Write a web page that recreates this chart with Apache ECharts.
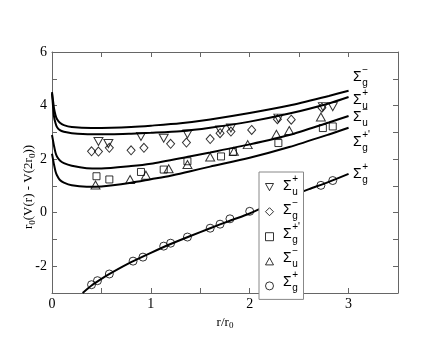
<!DOCTYPE html>
<html><head><meta charset="utf-8">
<script src="https://cdn.jsdelivr.net/npm/echarts@6/dist/echarts.min.js"></script>
<style>html,body{margin:0;padding:0;background:#fff}#c{width:448px;height:346px}</style>
</head><body><div id="c"></div>
<script>
// ---- data ----
// markers
const rSuPlus = [0.47, 0.57, 0.90, 1.13, 1.37, 1.70, 1.81, 2.29, 2.74, 2.84];
const vSuPlus = [2.66, 2.58, 2.85, 2.78, 2.94, 3.09, 3.16, 3.53, 3.96, 3.96];
const rSgMinus = [0.40, 0.47, 0.58, 0.80, 0.93, 1.20, 1.36, 1.60, 1.70, 1.81, 2.02, 2.28, 2.42, 2.73];
const vSgMinus = [2.29, 2.28, 2.42, 2.33, 2.42, 2.57, 2.62, 2.75, 2.97, 3.03, 3.09, 3.49, 3.47, 3.92];
const rSgPrime = [0.45, 0.58, 0.90, 1.13, 1.37, 1.71, 1.83, 2.29, 2.74, 2.84];
const vSgPrime = [1.36, 1.24, 1.52, 1.61, 1.92, 2.10, 2.27, 2.60, 3.16, 3.22];
const rSuMinus = [0.44, 0.79, 0.95, 1.18, 1.37, 1.60, 1.84, 1.98, 2.27, 2.40, 2.72];
const vSuMinus = [1.03, 1.24, 1.40, 1.64, 1.80, 2.08, 2.29, 2.54, 2.93, 3.07, 3.57];
const rSgPlus = [0.40, 0.46, 0.58, 0.82, 0.92, 1.13, 1.20, 1.37, 1.60, 1.70, 1.80, 2.00, 2.72, 2.84];
const vSgPlus = [-2.69, -2.54, -2.29, -1.81, -1.66, -1.25, -1.14, -0.91, -0.58, -0.43, -0.23, 0.05, 1.02, 1.20];
// curves
const rCurve1 = [0, 0.01, 0.02, 0.035, 0.05, 0.08, 0.12, 0.2, 0.4, 0.6, 0.8, 1.0, 1.3, 1.6, 2.0, 2.4, 2.8, 3.0];
const vCurve1 = [4.5, 4.2, 3.9, 3.65, 3.5, 3.36, 3.27, 3.2, 3.16, 3.17, 3.2, 3.25, 3.34, 3.48, 3.72, 4.0, 4.36, 4.55];
const rCurve2 = [0, 0.01, 0.02, 0.035, 0.05, 0.08, 0.12, 0.2, 0.4, 0.6, 0.8, 1.0, 1.3, 1.6, 2.0, 2.4, 2.8, 3.0];
const vCurve2 = [4.45, 4.0, 3.6, 3.35, 3.2, 3.08, 3.02, 2.97, 2.93, 2.93, 2.95, 2.98, 3.04, 3.17, 3.4, 3.7, 4.08, 4.32];
const rCurve3 = [0, 0.01, 0.02, 0.035, 0.05, 0.08, 0.12, 0.2, 0.35, 0.5, 0.8, 1.0, 1.39, 1.6, 2.0, 2.4, 2.8, 3.0];
const vCurve3 = [2.9, 2.7, 2.5, 2.25, 2.1, 1.95, 1.85, 1.75, 1.66, 1.65, 1.74, 1.83, 2.1, 2.25, 2.55, 2.9, 3.37, 3.61];
const rCurve4 = [0, 0.01, 0.02, 0.035, 0.05, 0.08, 0.12, 0.2, 0.35, 0.5, 0.8, 1.0, 1.2, 1.4, 1.6, 2.0, 2.4, 2.8, 3.0];
const vCurve4 = [2.2, 2.0, 1.8, 1.55, 1.4, 1.22, 1.12, 1.02, 0.97, 0.98, 1.12, 1.25, 1.38, 1.55, 1.72, 2.05, 2.45, 2.92, 3.17];
const rCurve5 = [0.31, 0.4, 0.5, 0.6, 0.8, 1.0, 1.2, 1.4, 1.6, 1.8, 2.0, 2.2, 2.4, 2.6, 2.8, 3.0];
const vCurve5 = [-3.0, -2.72, -2.47, -2.25, -1.85, -1.5, -1.17, -0.87, -0.58, -0.3, -0.03, 0.3, 0.6, 0.88, 1.15, 1.45];
// axis ticks
const xTickLabels = [0, 1, 2, 3];
const yTickLabels = [-2, 0, 2, 4, 6];

const zip = (a, b) => a.map((x, i) => [x, b[i]]);
const SERIF = '"Liberation Serif", "Times New Roman", serif';
const SANS = '"Liberation Sans", Arial, sans-serif';
const triDown = 'path://M0,0 L10,0 L5,9 Z';
const triUp = 'path://M5,0 L10,9 L0,9 Z';
const mk = {color: 'rgba(0,0,0,0)', borderColor: '#000', borderWidth: 1};

function lineSeries(r, v) {
  return {type: 'line', data: zip(r, v), showSymbol: false, smooth: 0.25,
    lineStyle: {color: '#000', width: 2}, itemStyle: {color: '#000'}, z: 2, silent: true};
}
function scat(name, r, v, symbol, size) {
  return {type: 'scatter', name, data: zip(r, v), symbol, symbolSize: size, itemStyle: mk, z: 3};
}

function sigma(x, y, sup, sub, big, small) {
  const els = [];
  els.push({type: 'text', x: x, y: y, z: 100, style: {text: 'Σ', font: big + 'px ' + SANS, fill: '#000', align: 'left', verticalAlign: 'middle'}});
  if (sup) els.push({type: 'text', x: x + big * 0.66, y: y - big * 0.45, z: 100, style: {text: sup, font: small + 'px ' + SANS, fill: '#000', align: 'left', verticalAlign: 'middle'}});
  if (sub) els.push({type: 'text', x: x + big * 0.66, y: y + big * 0.45, z: 100, style: {text: sub, font: small + 'px ' + SANS, fill: '#000', align: 'left', verticalAlign: 'middle'}});
  return els;
}

const graphics = [];
[[77, '−', 'g'], [100, '+', 'u'], [117, '−', 'u'], [142, "+'", 'g'], [174, '+', 'g']].forEach(d => {
  graphics.push(...sigma(353, d[0], d[1], d[2], 14, 10));
});
[[186, '+', 'u'], [210, '−', 'g'], [234, "+'", 'g'], [258, '−', 'u'], [282, '+', 'g']].forEach(d => {
  graphics.push(...sigma(283, d[0], d[1], d[2], 14, 10));
});
graphics.push({type: 'text', x: 29, y: 187, rotation: Math.PI / 2, z: 100,
  style: {text: '{a|r}{b|0}{a|(V(r) - V(2r}{b|0}{a|))}', align: 'center', verticalAlign: 'middle', fill: '#000',
    rich: {a: {fontSize: 13, fontFamily: SERIF, lineHeight: 16, verticalAlign: 'middle'},
           b: {fontSize: 9, fontFamily: SERIF, lineHeight: 9, verticalAlign: 'bottom'}}}});

const axisLine = {show: true, onZero: false, lineStyle: {color: '#666', width: 1}};
const tick = {show: true, inside: true, length: 5, lineStyle: {color: '#666'}};
const chart = echarts.init(document.getElementById('c'), null, {renderer: 'canvas'});
chart.setOption({
  animation: false,
  backgroundColor: '#fff',
  grid: {left: 52, right: 50, top: 52, bottom: 53},
  xAxis: [
    {type: 'value', min: 0, max: 3.5, interval: 0.5, axisLine, axisTick: tick, splitLine: {show: false},
     axisLabel: {margin: 4, fontFamily: SERIF, fontSize: 14, color: '#000',
       formatter: v => xTickLabels.includes(v) ? String(v) : ''},
     name: '{a|r/r}{b|0}', nameLocation: 'middle', nameGap: 14,
     nameTextStyle: {rich: {a: {fontSize: 13, fontFamily: SERIF, color: '#000', lineHeight: 16, verticalAlign: 'middle'},
                            b: {fontSize: 9, fontFamily: SERIF, color: '#000', lineHeight: 9, verticalAlign: 'bottom'}}}},
    {type: 'value', position: 'top', min: 0, max: 3.5, interval: 0.5, axisLine, axisTick: tick,
     axisLabel: {show: false}, splitLine: {show: false}}
  ],
  yAxis: [
    {type: 'value', min: -3, max: 6, interval: 1, axisLine, axisTick: tick, splitLine: {show: false},
     axisLabel: {margin: 5, fontFamily: SERIF, fontSize: 14, color: '#000',
       formatter: v => yTickLabels.includes(v) ? String(v) : ''}},
    {type: 'value', position: 'right', min: -3, max: 6, interval: 1, axisLine, axisTick: tick,
     axisLabel: {show: false}, splitLine: {show: false}}
  ],
  legend: {orient: 'vertical', left: 259, top: 172, itemWidth: 8, itemHeight: 8, itemGap: 16,
    padding: [11, 25, 9, 6], backgroundColor: '#fff', borderColor: '#888', borderWidth: 1, borderRadius: 0,
    itemStyle: {borderWidth: 1, borderColor: '#000', color: 'rgba(0,0,0,0)'},
    formatter: () => '', textStyle: {fontSize: 10, lineHeight: 10},
    data: ['Su+', 'Sg-', 'Sgp', 'Su-', 'Sg+'], z: 50},
  series: [
    lineSeries(rCurve1, vCurve1), lineSeries(rCurve2, vCurve2), lineSeries(rCurve3, vCurve3),
    lineSeries(rCurve4, vCurve4), lineSeries(rCurve5, vCurve5),
    scat('Su+', rSuPlus, vSuPlus, triDown, [9, 8]),
    scat('Sg-', rSgMinus, vSgMinus, 'diamond', [8, 9]),
    scat('Sgp', rSgPrime, vSgPrime, 'rect', 7),
    scat('Su-', rSuMinus, vSuMinus, triUp, [9, 8]),
    scat('Sg+', rSgPlus, vSgPlus, 'circle', 8)
  ],
  graphic: graphics
});
</script></body></html>
